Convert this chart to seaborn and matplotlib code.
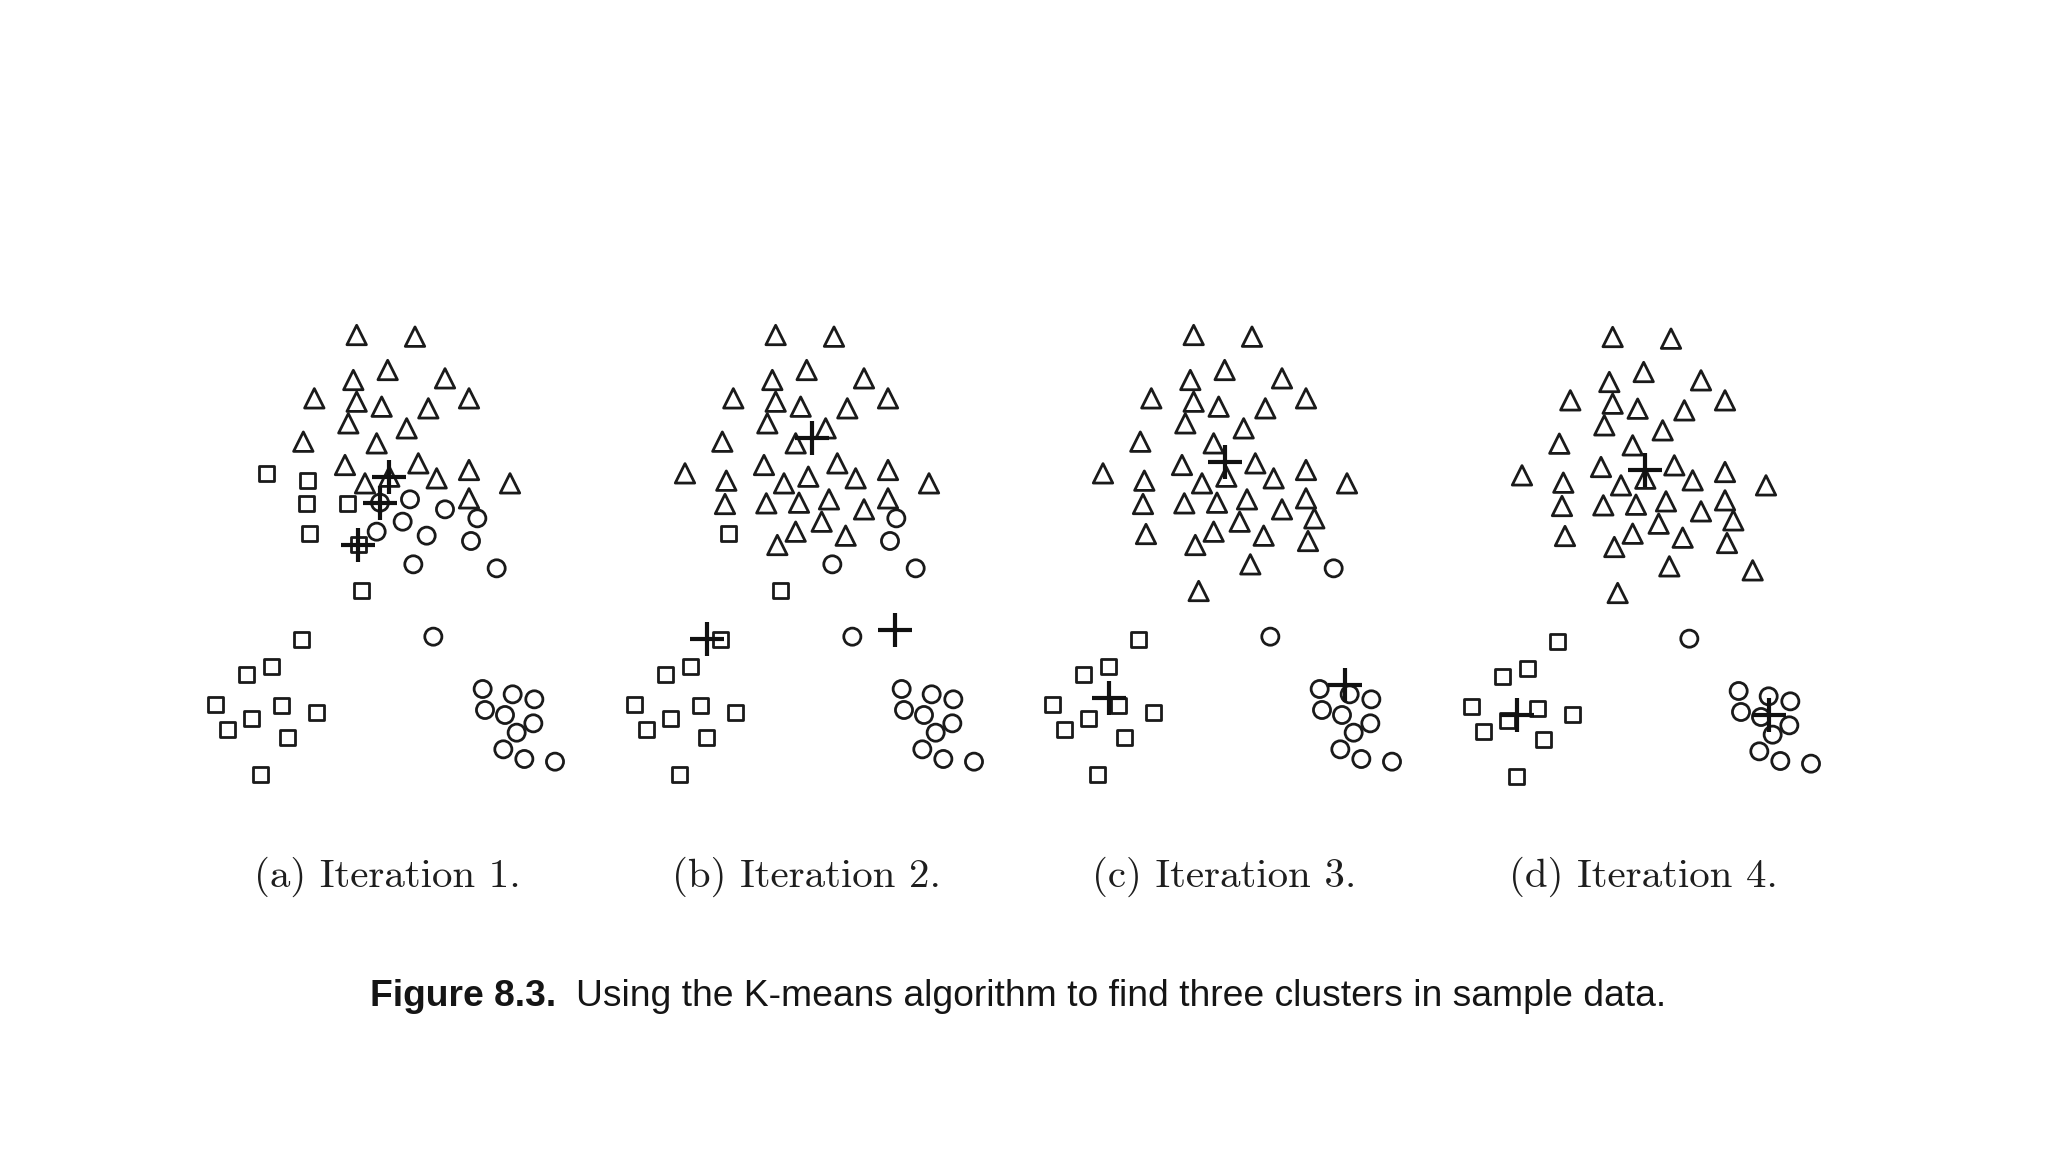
import matplotlib
matplotlib.use('Agg')
import matplotlib.pyplot as plt
from matplotlib import font_manager
import pandas as pd
import seaborn as sns

# ─── data: one sample set, four iterations of k-means ───────────────
x_vals = [5.00, 6.75, 5.93, 4.90, 7.65, 3.73, 5.00, 5.75, 8.37, 7.15,
          4.75, 6.50, 3.40, 5.60, 2.28, 4.65, 6.85, 5.98, 3.52, 7.40,
          8.37, 9.60, 5.25, 3.48, 4.72, 5.70, 6.60, 8.37, 7.65, 6.38,
          8.62, 3.57, 5.60, 7.10, 5.05, 8.43, 6.70, 9.20, 5.15, 3.33,
          7.30, 2.45, 1.68, 0.75, 2.75, 3.78, 1.85, 1.13, 2.93, 2.12,
          8.78, 9.68, 10.33, 8.85, 9.45, 10.30, 9.80, 9.40, 10.03, 10.95]
y_vals = [13.75, 13.70, 12.70, 12.40, 12.45, 11.85, 11.75, 11.60, 11.85, 11.55,
          11.10, 10.95, 10.55, 10.50, 9.60, 9.85, 9.90, 9.50, 9.38, 9.45,
          9.70, 9.30, 9.30, 8.68, 8.70, 8.72, 8.82, 8.85, 8.52, 8.15,
          8.25, 7.78, 7.85, 7.73, 7.45, 7.57, 6.87, 6.75, 6.07, 4.62,
          4.70, 3.80, 3.57, 2.67, 2.62, 2.43, 2.25, 1.92, 1.67, 0.57,
          3.13, 2.97, 2.82, 2.50, 2.35, 2.10, 1.82, 1.32, 1.03, 0.95]

# cluster of each point per iteration (T = triangle, S = square, C = circle)
labels_it1 = "TTTTTTTTTTTTTT" "S" "TTT" "S" "TTTT" "SS" "CC" "T" "CCC" "S" "CC" "S" "CCC" "SS" "C" "SSSSSSSSS" "CCCCCCCCCC"
labels_it2 = "TTTTTTTTTTTTTTTTTTTTTTTTTTTTTT" "C" "S" "TTT" "CCC" "SS" "C" "SSSSSSSSS" "CCCCCCCCCC"
labels_it3 = "TTTTTTTTTTTTTTTTTTTTTTTTTTTTTTTTTTTTT" "C" "T" "S" "C" "SSSSSSSSS" "CCCCCCCCCC"
labels_it4 = "TTTTTTTTTTTTTTTTTTTTTTTTTTTTTTTTTTTTTTT" "S" "C" "SSSSSSSSS" "CCCCCCCCCC"

cent_x_it1 = [5.98, 5.70, 5.05]
cent_y_it1 = [9.50, 8.72, 7.45]
cent_x_it2 = [6.08, 2.93, 8.58]
cent_y_it2 = [10.67, 4.64, 4.89]
cent_x_it3 = [5.95, 2.45, 9.55]
cent_y_it3 = [9.95, 2.85, 3.25]
cent_x_it4 = [5.98, 2.13, 9.68]
cent_y_it4 = [9.77, 2.40, 2.40]

subcaptions = ['(a) Iteration 1.', '(b) Iteration 2.', '(c) Iteration 3.', '(d) Iteration 4.']
caption_bold = 'Figure 8.3.'
caption_text = 'Using the K-means algorithm to find three clusters in sample data.'

iterations = [
    (labels_it1, cent_x_it1, cent_y_it1),
    (labels_it2, cent_x_it2, cent_y_it2),
    (labels_it3, cent_x_it3, cent_y_it3),
    (labels_it4, cent_x_it4, cent_y_it4),
]

MARKERS = {'T': ('^', 14.0), 'S': ('s', 10.8), 'C': ('o', 12.3)}

sns.set_style('white')
installed = {f.name for f in font_manager.fontManager.ttflist}
sans = 'Liberation Sans Narrow' if 'Liberation Sans Narrow' in installed else 'Liberation Sans'
serif = 'cmr10' if 'cmr10' in installed else 'DejaVu Serif'

W, H = 2048, 1152
fig = plt.figure(figsize=(W / 100, H / 100), dpi=100, facecolor='white')

panel_left = [190, 609, 1027, 1446]
panel_top = [310, 310, 310, 312]

for k, (labels, cx, cy) in enumerate(iterations):
    ax = fig.add_axes([panel_left[k] / W, 1 - (panel_top[k] + 480) / H, 400 / W, 480 / H])
    df = pd.DataFrame({'x': x_vals, 'y': y_vals, 'cluster': list(labels)})
    for key, (mk, ms) in MARKERS.items():
        sub = df[df['cluster'] == key]
        sns.scatterplot(data=sub, x='x', y='y', marker=mk, s=ms ** 2,
                        color='none', edgecolor='#1a1a1a', linewidth=2.0,
                        ax=ax, legend=False, zorder=2)
    cent = pd.DataFrame({'x': cx, 'y': cy})
    sns.scatterplot(data=cent, x='x', y='y', marker='+', s=24 ** 2,
                    color='#111111', linewidth=3.0, ax=ax, legend=False, zorder=3)
    ax.set_xlim(0, 12)
    ax.set_ylim(0.10, 14.50)
    ax.axis('off')

    fig.text((panel_left[k] + 197) / W, 1 - 877 / H, subcaptions[k],
             family=serif, fontsize=29.5, ha='center', va='center', color='#1e1e1e')

# caption: bold label + regular text
t1 = fig.text(370 / W, 1 - 996 / H, caption_bold, family=sans, fontsize=26.8,
              fontweight='bold', ha='left', va='center', color='#151515')
fig.canvas.draw()
bb = t1.get_window_extent()
fig.text((bb.x1 + 20) / W, 1 - 996 / H, caption_text, family=sans, fontsize=26.8,
         ha='left', va='center', color='#151515')

plt.savefig('out.png', dpi=100, facecolor='white')
plt.close()
